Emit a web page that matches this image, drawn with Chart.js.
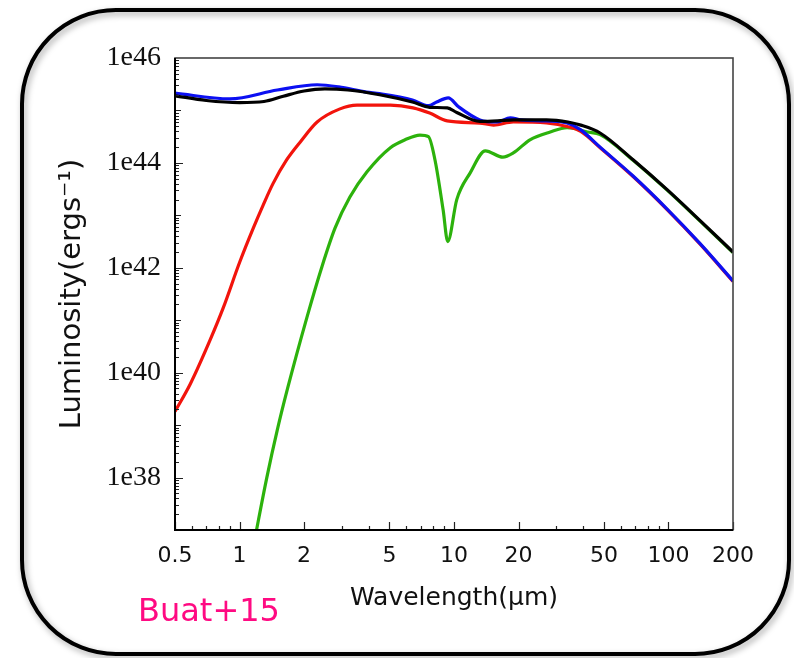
<!DOCTYPE html>
<html>
<head>
<meta charset="utf-8">
<script src="https://cdn.jsdelivr.net/npm/chart.js@4.4.1/dist/chart.umd.min.js"></script>
<style>
  html, body { margin: 0; padding: 0; background: #fff; }
  canvas { display: block; }
</style>
</head>
<body>
<canvas id="sed" width="794" height="658"></canvas>
<script>
// wavelengths in micron, luminosities as log10(erg/s)
const WAVE_TOTAL = [0.5, 0.7, 1.0, 1.3, 1.6, 2.0, 2.5, 3.2, 4.5, 6.4, 7.7, 9.3, 10.3, 13.2, 16, 19, 27, 34, 39, 48, 68.4, 98.6, 140.5, 200];
const LOG_TOTAL = [45.28, 45.19, 45.15, 45.17, 45.27, 45.37, 45.41, 45.39, 45.30, 45.16, 45.06, 45.05, 44.96, 44.79, 44.80, 44.82, 44.82, 44.78, 44.72, 44.57, 44.06, 43.49, 42.90, 42.30];

const WAVE_BLUE = [0.5, 0.9, 1.5, 2.3, 2.9, 3.9, 4.5, 6.4, 7.6, 8.3, 9.4, 10.5, 13.2, 15.9, 18.3, 20.5, 27, 33.7, 39, 48, 68.4, 98.6, 140.5, 200];
const LOG_BLUE = [45.33, 45.22, 45.39, 45.49, 45.45, 45.35, 45.32, 45.20, 45.09, 45.16, 45.24, 45.07, 44.82, 44.78, 44.86, 44.82, 44.80, 44.76, 44.63, 44.30, 43.75, 43.12, 42.46, 41.75];

const WAVE_RED = [0.5, 0.59, 0.73, 0.84, 1.0, 1.16, 1.29, 1.43, 1.66, 1.92, 2.3, 2.94, 3.53, 5.05, 6.44, 7.7, 9.3, 13.2, 15.3, 18.9, 27, 34, 39, 48, 68.4, 98.6, 140.5, 200];
const LOG_RED = [39.26, 39.79, 40.63, 41.24, 42.10, 42.76, 43.20, 43.60, 44.06, 44.40, 44.78, 45.03, 45.10, 45.10, 45.05, 44.95, 44.80, 44.76, 44.72, 44.78, 44.76, 44.69, 44.60, 44.29, 43.74, 43.11, 42.45, 41.74];

const WAVE_GREEN = [1.15, 1.2, 1.34, 1.5, 1.67, 2.06, 2.43, 2.79, 3.27, 3.93, 5.05, 5.91, 6.94, 7.6, 8.15, 8.9, 9.35, 10.3, 11.9, 14.0, 16.9, 18.9, 22.6, 28.1, 33.7, 41.9, 48, 68.4, 98.6, 140.5, 200];
const LOG_GREEN = [36.6, 37.0, 38.0, 38.91, 39.68, 41.05, 42.04, 42.76, 43.35, 43.83, 44.29, 44.44, 44.53, 44.50, 44.06, 43.10, 42.50, 43.30, 43.81, 44.23, 44.11, 44.19, 44.44, 44.59, 44.67, 44.59, 44.54, 44.05, 43.48, 42.89, 42.29];

const X_TICKS = [0.5, 1, 2, 5, 10, 20, 50, 100, 200];
const Y_TICK_EXP = [38, 40, 42, 44, 46];

const toPoints = (wave, logL) => wave.map((w, i) => ({ x: w, y: Math.pow(10, logL[i]) }));

const frame = {
  id: 'frame',
  beforeDraw(chart) {
    const { ctx } = chart;
    ctx.save();
    ctx.shadowColor = 'rgba(0, 0, 0, 0.35)';
    ctx.shadowBlur = 6;
    ctx.shadowOffsetX = 2;
    ctx.shadowOffsetY = 3;
    ctx.strokeStyle = '#000';
    ctx.lineWidth = 4;
    ctx.beginPath();
    ctx.roundRect(22, 10, 767, 644, 94);
    ctx.stroke();
    ctx.restore();

    ctx.save();
    ctx.font = '32px "DejaVu Sans"';
    ctx.fillStyle = '#ff0a82';
    ctx.textBaseline = 'alphabetic';
    ctx.fillText('Buat+15', 138, 621);
    ctx.restore();
  },
};

const axesBox = {
  id: 'axesBox',
  afterDatasetsDraw(chart) {
    const {
      ctx,
      chartArea: { left, right, top, bottom },
      scales: { x, y },
    } = chart;
    ctx.save();
    ctx.strokeStyle = '#222';
    ctx.lineWidth = 1.2;
    ctx.beginPath();
    // minor / major ticks pointing inwards
    for (let d = -1; d <= 2; d++) {
      for (let m = 1; m <= 9; m++) {
        const v = m * Math.pow(10, d);
        if (v < 0.5 || v > 200) continue;
        const px = Math.round(x.getPixelForValue(v)) + 0.5;
        const len = X_TICKS.some((t) => Math.abs(t - v) < 1e-9) ? 8 : 4;
        ctx.moveTo(px, bottom);
        ctx.lineTo(px, bottom - len);
      }
    }
    for (let e = 37; e <= 45; e++) {
      for (let m = 1; m <= 9; m++) {
        const py = Math.round(y.getPixelForValue(m * Math.pow(10, e))) + 0.5;
        const len = m === 1 ? (e % 2 === 0 ? 8 : 6) : 4;
        ctx.moveTo(left, py);
        ctx.lineTo(left + len, py);
      }
    }
    ctx.stroke();

    ctx.strokeStyle = '#444';
    ctx.lineWidth = 1.6;
    ctx.strokeRect(left, top, right - left, bottom - top);
    ctx.strokeStyle = '#000';
    ctx.lineWidth = 2;
    ctx.beginPath();
    ctx.moveTo(left, top);
    ctx.lineTo(left, bottom);
    ctx.lineTo(right, bottom);
    ctx.stroke();
    ctx.restore();
  },
};

const line = (label, wave, logL, color) => ({
  label: label,
  data: toPoints(wave, logL),
  borderColor: color,
  backgroundColor: color,
  borderWidth: 3.2,
  pointRadius: 0,
  cubicInterpolationMode: 'monotone',
  fill: false,
});

Chart.defaults.color = '#111';

new Chart(document.getElementById('sed'), {
  type: 'line',
  data: {
    datasets: [
      line('total', WAVE_TOTAL, LOG_TOTAL, '#000000'),
      line('AGN', WAVE_BLUE, LOG_BLUE, '#0c10f2'),
      line('stars', WAVE_RED, LOG_RED, '#f2140c'),
      line('dust', WAVE_GREEN, LOG_GREEN, '#2cb20c'),
    ],
  },
  options: {
    responsive: false,
    animation: false,
    devicePixelRatio: 1,
    layout: { padding: { top: 58, right: 61, bottom: 0, left: 0 } },
    plugins: {
      legend: { display: false },
      tooltip: { enabled: false },
    },
    scales: {
      x: {
        type: 'logarithmic',
        min: 0.5,
        max: 200,
        afterBuildTicks: (scale) => {
          scale.ticks = X_TICKS.map((v) => ({ value: v }));
        },
        afterFit: (scale) => {
          scale.height = 128;
        },
        ticks: {
          autoSkip: false,
          maxRotation: 0,
          minRotation: 0,
          padding: 13,
          font: { family: '"DejaVu Sans"', size: 22 },
          callback: (v) => String(v),
        },
        grid: { display: false, drawTicks: false },
        border: { display: false },
        title: {
          display: true,
          text: 'Wavelength(μm)',
          font: { family: '"DejaVu Sans"', size: 25 },
          padding: { top: 0, bottom: 45 },
        },
      },
      y: {
        type: 'logarithmic',
        min: 1e37,
        max: 1e46,
        afterBuildTicks: (scale) => {
          scale.ticks = Y_TICK_EXP.map((e) => ({ value: Number('1e' + e) }));
        },
        afterFit: (scale) => {
          scale.width = 175;
        },
        ticks: {
          autoSkip: false,
          padding: 14,
          font: { family: '"Liberation Serif"', size: 28 },
          callback: (v) => '1e' + Math.round(Math.log10(v)),
        },
        grid: { display: false, drawTicks: false },
        border: { display: false },
        title: {
          display: true,
          text: 'Luminosity(ergs⁻¹)',
          font: { family: '"DejaVu Sans"', size: 29 },
          padding: { top: 55, bottom: 0 },
        },
      },
    },
  },
  plugins: [frame, axesBox],
});
</script>
</body>
</html>
